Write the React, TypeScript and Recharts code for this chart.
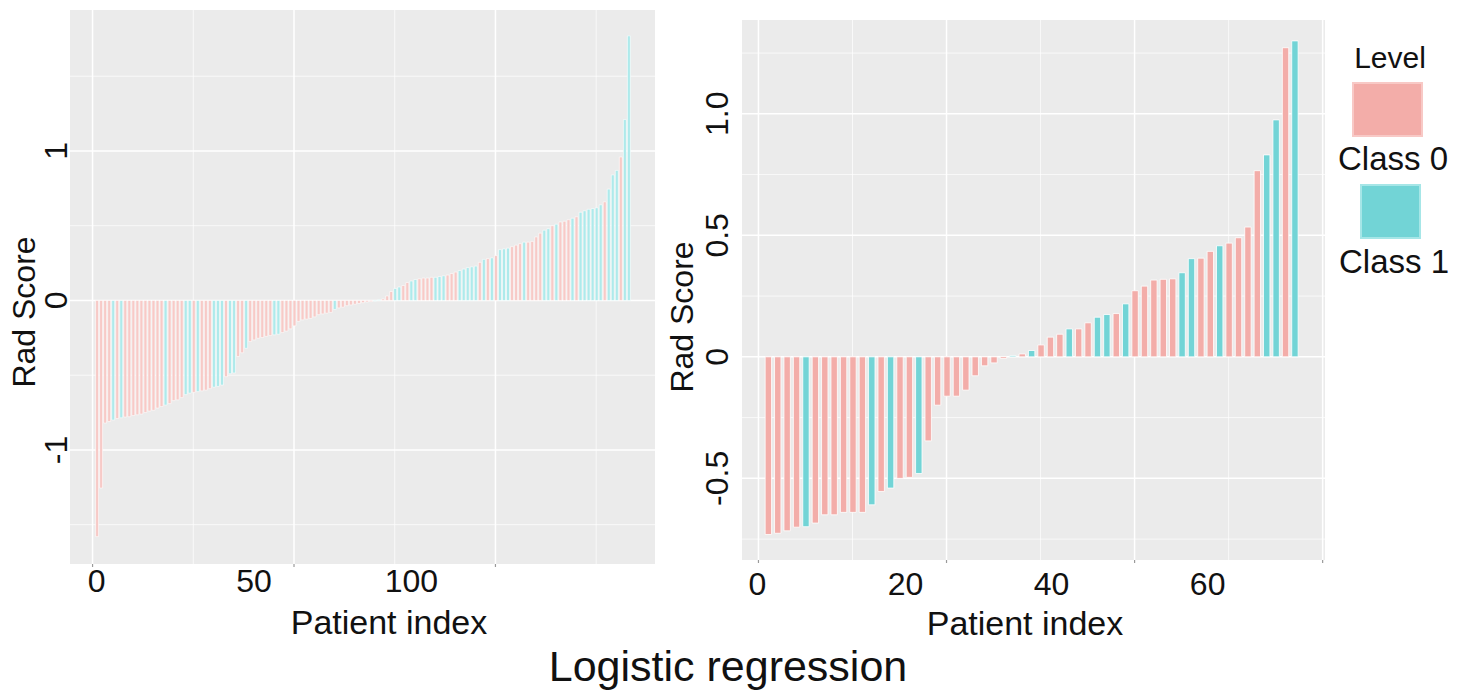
import { BarChart, Bar, XAxis, YAxis, CartesianGrid, Cell } from "recharts";

// Rad score per patient, sorted ascending (training cohort, left panel)
const trainScores = [
  -1.58, -1.255, -0.82, -0.81, -0.8, -0.79, -0.785, -0.78, -0.778, -0.77,
  -0.765, -0.76, -0.75, -0.74, -0.735, -0.72, -0.71, -0.7, -0.69, -0.67,
  -0.665, -0.65, -0.63, -0.62, -0.615, -0.61, -0.605, -0.6, -0.59, -0.58,
  -0.575, -0.566, -0.51, -0.49, -0.485, -0.375, -0.35, -0.32, -0.275, -0.264,
  -0.253, -0.248, -0.24, -0.235, -0.23, -0.226, -0.215, -0.205, -0.19, -0.17,
  -0.14, -0.13, -0.125, -0.12, -0.11, -0.095, -0.09, -0.085, -0.08, -0.06,
  -0.05, -0.045, -0.035, -0.03, -0.025, -0.02, -0.015, -0.01, -0.008, -0.005,
  0.005, 0.01, 0.03, 0.06, 0.08, 0.09, 0.1, 0.12, 0.13, 0.14,
  0.145, 0.15, 0.15, 0.155, 0.155, 0.16, 0.165, 0.17, 0.18, 0.19,
  0.2, 0.21, 0.22, 0.225, 0.23, 0.255, 0.275, 0.28, 0.285, 0.3,
  0.34, 0.345, 0.35, 0.36, 0.37, 0.38, 0.39, 0.39, 0.395, 0.425,
  0.45, 0.47, 0.48, 0.5, 0.51, 0.525, 0.53, 0.54, 0.55, 0.56,
  0.59, 0.6, 0.61, 0.615, 0.62, 0.64, 0.66, 0.745, 0.84, 0.87,
  0.96, 1.21, 1.77,
];

// patients of class 1 in the training cohort (1-based index)
const trainClass1 = [
  5, 7, 18, 23, 24, 26, 30, 31, 32, 34, 35, 38, 45, 46, 60, 70, 71, 75, 76,
  79, 80, 85, 86, 87, 91, 92, 93, 94, 95, 97, 99, 101, 102, 103, 107, 112,
  113, 115, 119, 121, 122, 123, 124, 125, 126, 128, 129, 130, 132, 133,
];

// validation cohort, right panel
const testScores = [
  -0.731, -0.726, -0.716, -0.701, -0.699, -0.684, -0.65, -0.65, -0.64, -0.64,
  -0.64, -0.609, -0.554, -0.54, -0.5, -0.496, -0.48, -0.346, -0.199, -0.162,
  -0.162, -0.137, -0.078, -0.037, -0.025, -0.007, 0.005, 0.012, 0.026, 0.049,
  0.081, 0.093, 0.115, 0.115, 0.14, 0.163, 0.174, 0.178, 0.218, 0.272,
  0.291, 0.316, 0.319, 0.321, 0.346, 0.404, 0.406, 0.434, 0.457, 0.468,
  0.49, 0.534, 0.766, 0.831, 0.975, 1.272, 1.3,
];

const testClass1 = [5, 12, 14, 17, 27, 29, 33, 36, 37, 39, 45, 46, 49, 54, 55, 57];

const levelNames = ["Class 0", "Class 1"];

const trainXTicks = [0, 50, 100];
const trainXMinor = [25, 75, 125];
const trainYTicks = [-1, 0, 1];
const trainYMinor = [-1.5, -0.5, 0.5, 1.5];

const testXTicks = [0, 20, 40, 60];
const testXMinor = [10, 30, 50];
const testYTicks = [-0.5, 0, 0.5, 1.0];
const testYMinor = [-0.75, -0.25, 0.25, 0.75, 1.25];

// the x labels in the figure sit left of their tick marks
const trainLabelShift = [4, -40, -84];
const testLabelShift = [-1, -41, -83, -115];

const FONT = "'Liberation Sans', Arial, Helvetica, sans-serif";
const PANEL = "#EBEBEB";
const PINK = "#F3ADA9";
const TEAL = "#72D4D6";
const PINK_PALE = "#F7CAC7";
const TEAL_PALE = "#AEEAEB";

const toRows = (scores: number[], class1: number[]) =>
  scores.map((score, i) => ({
    index: i + 1,
    score,
    level: class1.includes(i + 1) ? 1 : 0,
  }));

const trainRows = toRows(trainScores, trainClass1);
const testRows = toRows(testScores, testClass1);

function axisPx(axis: any, v: number, fallback: number) {
  const s = axis?.scale;
  if (typeof s === "function") return s(v);
  if (s && typeof s.map === "function") return s.map(v);
  return fallback;
}

function gridGenerators(
  xVals: number[],
  yVals: number[],
  xDomain: number[],
  yDomain: number[]
) {
  return {
    vertical: ({ xAxis, offset }: any) =>
      xVals.map((v) =>
        axisPx(
          xAxis,
          v,
          offset.left + ((v - xDomain[0]) / (xDomain[1] - xDomain[0])) * offset.width
        )
      ),
    horizontal: ({ yAxis, offset }: any) =>
      yVals.map((v) =>
        axisPx(
          yAxis,
          v,
          offset.top + ((yDomain[1] - v) / (yDomain[1] - yDomain[0])) * offset.height
        )
      ),
  };
}

function XTick({ x, y, payload, index, shifts, dy }: any) {
  return (
    <g>
      <line x1={x} x2={x} y1={y} y2={y + 3} stroke="#9a9a9a" strokeWidth={1.2} />
      <text
        x={x + (shifts[index] ?? 0)}
        y={y + dy}
        textAnchor="middle"
        fontFamily={FONT}
        fontSize={32}
        fill="#111"
      >
        {payload.value}
      </text>
    </g>
  );
}

function YTick({ x, y, payload, fmt }: any) {
  return (
    <text
      x={x}
      y={y}
      transform={`rotate(-90 ${x} ${y})`}
      textAnchor="middle"
      fontFamily={FONT}
      fontSize={32}
      fill="#111"
    >
      {fmt(payload.value)}
    </text>
  );
}

interface PanelProps {
  rows: { index: number; score: number; level: number }[];
  width: number;
  height: number;
  margin: { top: number; right: number; bottom: number; left: number };
  xDomain: number[];
  yDomain: number[];
  xTicks: number[];
  xMinor: number[];
  yTicks: number[];
  yMinor: number[];
  labelShift: number[];
  labelDy: number;
  yAxisWidth: number;
  yTickGap: number;
  yFmt: (v: number) => string;
  barSize: number;
  barStroke: number;
  colors: string[];
}

function ScorePanel(p: PanelProps) {
  const major = gridGenerators(p.xTicks, p.yTicks, p.xDomain, p.yDomain);
  const minor = gridGenerators(p.xMinor, p.yMinor, p.xDomain, p.yDomain);
  return (
    <BarChart width={p.width} height={p.height} data={p.rows} margin={p.margin}>
      <CartesianGrid
        fill={PANEL}
        stroke="#ffffff"
        strokeWidth={1.5}
        verticalCoordinatesGenerator={major.vertical}
        horizontalCoordinatesGenerator={major.horizontal}
      />
      <CartesianGrid
        fill="none"
        stroke="#ffffff"
        strokeWidth={0.7}
        verticalCoordinatesGenerator={minor.vertical}
        horizontalCoordinatesGenerator={minor.horizontal}
      />
      <XAxis
        type="number"
        dataKey="index"
        domain={p.xDomain}
        ticks={p.xTicks}
        interval={0}
        allowDataOverflow
        axisLine={false}
        tickLine={false}
        tickSize={0}
        tickMargin={0}
        height={40}
        tick={(t: any) => <XTick {...t} shifts={p.labelShift} dy={p.labelDy} />}
      />
      <YAxis
        type="number"
        domain={p.yDomain}
        ticks={p.yTicks}
        interval={0}
        allowDataOverflow
        axisLine={false}
        tickLine={false}
        tickSize={0}
        tickMargin={p.yTickGap}
        width={p.yAxisWidth}
        tick={(t: any) => <YTick {...t} fmt={p.yFmt} />}
      />
      <Bar
        dataKey="score"
        isAnimationActive={false}
        barSize={p.barSize}
        stroke="#ffffff"
        strokeWidth={p.barStroke}
      >
        {p.rows.map((r) => (
          <Cell key={r.index} fill={p.colors[r.level]} />
        ))}
      </Bar>
    </BarChart>
  );
}

export default function App() {
  return (
    <div
      style={{
        position: "absolute",
        left: 0,
        top: 0,
        width: 1458,
        height: 692,
        background: "#fff",
        overflow: "hidden",
      }}
    >
      <div style={{ position: "absolute", left: 0, top: 0 }}>
        <ScorePanel
          rows={trainRows}
          width={700}
          height={616}
          margin={{ top: 10, right: 45, bottom: 12, left: 0 }}
          xDomain={[-5.6, 139.6]}
          yDomain={[-1.763, 1.943]}
          xTicks={trainXTicks}
          xMinor={trainXMinor}
          yTicks={trainYTicks}
          yMinor={trainYMinor}
          labelShift={trainLabelShift}
          labelDy={28}
          yAxisWidth={70}
          yTickGap={3}
          yFmt={(v) => String(v)}
          barSize={3}
          barStroke={0.6}
          colors={[PINK_PALE, TEAL_PALE]}
        />
      </div>
      <div style={{ position: "absolute", left: 690, top: 0 }}>
        <ScorePanel
          rows={testRows}
          width={660}
          height={612}
          margin={{ top: 20, right: 25, bottom: 12, left: 0 }}
          xDomain={[-1.75, 60.25]}
          yDomain={[-0.836, 1.386]}
          xTicks={testXTicks}
          xMinor={testXMinor}
          yTicks={testYTicks}
          yMinor={testYMinor}
          labelShift={testLabelShift}
          labelDy={35}
          yAxisWidth={52}
          yTickGap={14}
          yFmt={(v) => (v === 0 ? "0" : v.toFixed(1))}
          barSize={6.4}
          barStroke={0.8}
          colors={[PINK, TEAL]}
        />
      </div>
      <svg
        width={1458}
        height={692}
        style={{ position: "absolute", left: 0, top: 0, pointerEvents: "none" }}
        fontFamily={FONT}
        fill="#111"
      >
        <text x={35} y={312} fontSize={32} textAnchor="middle" transform="rotate(-90 35 312)">
          Rad Score
        </text>
        <text x={693} y={317} fontSize={32} textAnchor="middle" transform="rotate(-90 693 317)">
          Rad Score
        </text>
        <text x={389} y={634} fontSize={34} textAnchor="middle">
          Patient index
        </text>
        <text x={1025} y={635} fontSize={34} textAnchor="middle">
          Patient index
        </text>
        <text x={728} y={681} fontSize={43} textAnchor="middle">
          Logistic regression
        </text>
        <text x={1390} y={68} fontSize={30} textAnchor="middle">
          Level
        </text>
        <rect x={1353} y={83} width={69} height={53} fill={PINK} stroke="#F8C9C6" strokeWidth={2} />
        <text x={1393} y={170} fontSize={33} textAnchor="middle">
          {levelNames[0]}
        </text>
        <rect x={1361} y={185} width={59} height={53} fill={TEAL} stroke="#A6E6E7" strokeWidth={2} />
        <text x={1394} y={273} fontSize={33} textAnchor="middle">
          {levelNames[1]}
        </text>
      </svg>
    </div>
  );
}
